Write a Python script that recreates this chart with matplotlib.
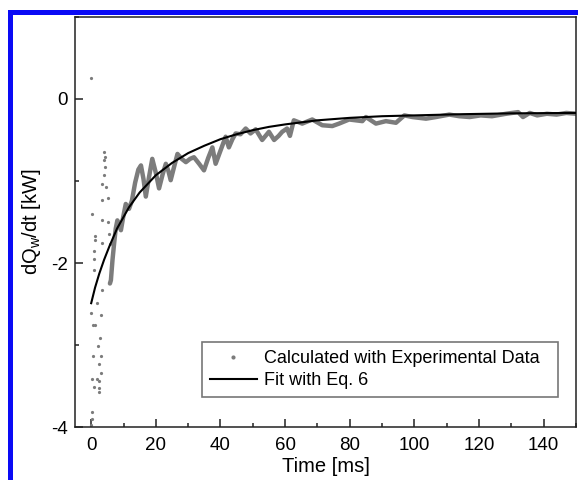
import matplotlib
matplotlib.use('Agg')
import matplotlib.pyplot as plt
from matplotlib.lines import Line2D
from matplotlib.ticker import MultipleLocator

plt.rcParams['font.family'] = ['Liberation Sans', 'DejaVu Sans']
plt.rcParams['mathtext.fontset'] = 'custom'
plt.rcParams['mathtext.rm'] = 'Liberation Sans'
plt.rcParams['mathtext.it'] = 'Liberation Sans'
plt.rcParams['axes.unicode_minus'] = False

# early, sparse experimental points (t < 6 ms)
dots_t = [0.0, 0.1, 1.1, 1.2, 1.0, 0.9, 0.9, 0.0, 0.7, 1.3, 1.9, 3.2, 3.0, 2.8,
          2.1, 0.7, 3.0, 2.3, 3.0, 0.1, 1.7, 2.3, 0.9, 2.3, 2.3, 0.4, 0.1, 0.0,
          4.0, 4.2, 4.0, 4.3, 4.1, 4.6, 3.5, 3.3, 5.2, 3.2, 5.2, 5.5, 3.3, 5.7]
dots_v = [0.26, -1.40, -1.67, -1.72, -1.85, -1.95, -2.09, -2.61, -2.76, -2.76,
          -2.49, -2.33, -2.63, -2.91, -3.01, -3.13, -3.14, -3.23, -3.34, -3.42,
          -3.42, -3.44, -3.51, -3.53, -3.57, -3.82, -3.90, -3.97,
          -0.65, -0.71, -0.75, -0.83, -0.93, -1.07, -1.04, -1.23, -1.21, -1.48,
          -1.50, -1.65, -1.75, -1.77]

# dense experimental points (drawn as a thick gray trace)
exp_t = [5.8, 6.1, 6.6, 7.1, 7.6, 8.1, 8.6, 9.2, 9.9, 10.7, 11.7, 12.6, 13.6, 14.6,
         15.4, 16.2, 16.9, 17.9, 18.9, 20.0, 21.0, 22.1, 23.1, 23.9, 24.6, 25.7,
         26.7, 28.0, 29.3, 30.6, 31.8, 33.4, 34.9, 36.2, 37.5, 38.5, 40.1, 41.6,
         42.6, 43.7, 44.7, 46.2, 47.8, 49.3, 50.9, 52.9, 55.0, 56.6, 58.0, 59.1,
         60.6, 61.5, 62.7, 65.3, 68.4, 71.5, 74.6, 76.7, 79.8, 83.9, 85.0, 88.1,
         91.2, 94.3, 96.9, 99.4, 103.6, 106.7, 110.8, 113.9, 117.1, 120.5, 124.0,
         128.4, 132.1, 133.6, 135.7, 138.0, 141.0, 144.0, 147.0, 150.0]
exp_v = [-2.25, -2.21, -1.96, -1.76, -1.58, -1.48, -1.53, -1.60, -1.44, -1.28,
         -1.34, -1.24, -1.02, -0.86, -0.81, -0.98, -1.19, -0.95, -0.73, -0.90,
         -1.09, -0.92, -0.79, -0.88, -0.99, -0.82, -0.67, -0.73, -0.77, -0.73,
         -0.71, -0.79, -0.87, -0.72, -0.59, -0.79, -0.62, -0.46, -0.59, -0.49,
         -0.42, -0.43, -0.36, -0.42, -0.37, -0.50, -0.40, -0.50, -0.45, -0.40,
         -0.36, -0.45, -0.26, -0.30, -0.25, -0.32, -0.33, -0.30, -0.25, -0.27,
         -0.22, -0.30, -0.27, -0.29, -0.20, -0.22, -0.24, -0.22, -0.19, -0.21,
         -0.22, -0.20, -0.21, -0.18, -0.16, -0.22, -0.17, -0.20, -0.18, -0.19,
         -0.17, -0.18]

# fit curve
fit_t = [0, 1.2, 2.5, 4, 5.6, 8, 11.7, 15, 20, 25, 30, 35, 40, 45, 50, 55, 60,
         70, 80, 90, 100, 115, 130, 150]
fit_v = [-2.49, -2.30, -2.13, -1.96, -1.80, -1.58, -1.32, -1.14, -0.93, -0.78,
         -0.66, -0.57, -0.49, -0.43, -0.38, -0.34, -0.31, -0.26, -0.23, -0.21,
         -0.20, -0.185, -0.175, -0.17]

fig = plt.figure(figsize=(5.78, 4.8), dpi=100)
ax = fig.add_axes([0.1298, 0.1104, 0.8667, 0.8542])

gray = '#7c7c7c'
ax.plot(exp_t, exp_v, color=gray, lw=3.2, solid_capstyle='round',
        solid_joinstyle='round', zorder=2)
sc, = ax.plot(dots_t, dots_v, 'o', color=gray, ms=2.3, mew=0, ls='none',
              label='Calculated with Experimental Data', zorder=2)
fl, = ax.plot(fit_t, fit_v, color='black', lw=1.5, label='Fit with Eq. 6', zorder=3)

ax.set_xlim(-5, 150)
ax.set_ylim(-4, 1)
ax.xaxis.set_major_locator(MultipleLocator(20))
ax.xaxis.set_minor_locator(MultipleLocator(10))
ax.yaxis.set_major_locator(MultipleLocator(2))
ax.yaxis.set_minor_locator(MultipleLocator(1))
ax.tick_params(which='both', direction='in', labelsize=13.5, color='#222222')
ax.tick_params(which='major', length=6, width=1.1)
ax.tick_params(which='minor', length=3, width=1.1)
ax.tick_params(axis='x', pad=7)
ax.tick_params(axis='y', pad=5)
for s in ax.spines.values():
    s.set_linewidth(1.1)
    s.set_color('#222222')

ax.set_xlabel('Time [ms]', fontsize=14.5, labelpad=2)
ax.set_ylabel('dQ$_{w}$/dt [kW]', fontsize=14.5, labelpad=6)

leg = ax.legend(handles=[sc, fl], loc='lower left', bbox_to_anchor=(0.253, 0.073, 0.711, 0.137),
                mode='expand', borderaxespad=0, fontsize=13, frameon=True, fancybox=False,
                edgecolor='#555555', markerscale=1.3, handlelength=2.6, borderpad=0.45,
                labelspacing=0.25, handletextpad=0.4)
leg.get_frame().set_linewidth(1.2)

# blue frame around the figure (only left and top visible)
blue = '#0a0af5'
fig.add_artist(Line2D([9.5 / 578, 9.5 / 578, 1.0], [0.0, 1 - 11.5 / 480, 1 - 11.5 / 480],
                      transform=fig.transFigure, color=blue, lw=3.6, solid_joinstyle='miter'))

fig.savefig('out.png', dpi=100)
